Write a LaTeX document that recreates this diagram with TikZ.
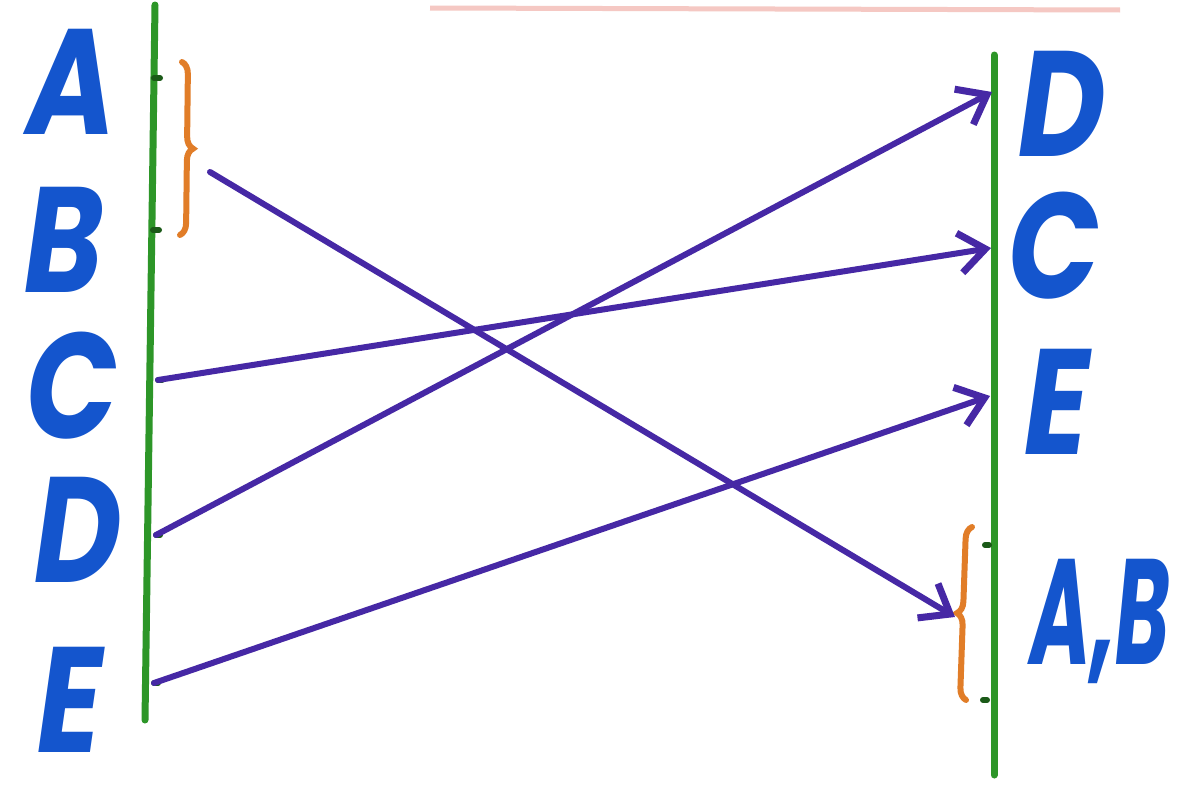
\documentclass[tikz,border=0pt]{standalone}
\usepackage{fontspec}
\setmainfont{Poppins}
\usetikzlibrary{arrows.meta,decorations.pathreplacing}
\definecolor{rail}{RGB}{45,150,40}
\definecolor{letter}{RGB}{20,85,205}
\definecolor{arrowc}{RGB}{70,40,165}
\definecolor{bracec}{RGB}{225,125,40}
\definecolor{pinkline}{RGB}{245,200,195}
\tikzset{
  railline/.style={rail,line width=7pt,line cap=round},
  tick/.style={rail!60!black,line width=6pt,line cap=round},
  lbl/.style={letter,font=\fontsize{150}{150}\selectfont\bfseries\itshape,inner sep=0pt,anchor=center,xscale=0.8,text height=104pt,text depth=0pt},
  lblsmall/.style={letter,font=\fontsize{150}{150}\selectfont\bfseries\itshape,inner sep=0pt,anchor=center,xscale=0.55,text height=104pt,text depth=0pt},
  conn/.style={arrowc,line width=6pt,line cap=round,-{Straight Barb[length=26pt,width=40pt,line width=7pt]}},
  bracel/.style={bracec,line width=6pt,line cap=round,decorate,decoration={brace,amplitude=12pt,raise=0pt}}
}
\begin{document}
\begin{tikzpicture}[x=1pt,y=-1pt]
\useasboundingbox (0,0) rectangle (1182,811);
\fill[white] (0,0) rectangle (1182,811);
% faint cut-off line at top
\draw[pinkline,line width=5pt] (430,8) -- (1120,10);
% rails
\coordinate (LT) at (155,5);
\coordinate (LB) at (145,720);
\coordinate (RT) at (994,55);
\coordinate (RB) at (994,775);
\draw[railline] (LT) -- (LB);
\draw[railline] (RT) -- (RB);
% attachment points
\coordinate (lA) at (154,78);
\coordinate (lB) at (153,230);
\coordinate (lC) at (158,380);
\coordinate (lD) at (156,535);
\coordinate (lE) at (154,683);
\coordinate (rD) at (992,92);
\coordinate (rC) at (991,248);
\coordinate (rE) at (990,396);
\coordinate (rA) at (989,545);
\coordinate (rB) at (987,700);
\foreach \p in {lA,lB} \draw[tick] (\p) -- ++(6,0);
\foreach \p in {lC,lD,lE} \draw[tick] (\p) -- ++(4,0);
\foreach \p in {rA,rB} \draw[tick] (\p) -- ++(-4,0);
% braces
\coordinate (lbTop) at (182,62);
\coordinate (lbBot) at (180,235);
\draw[bracel] (lbTop) -- (lbBot);
\coordinate (rbTop) at (972,527);
\coordinate (rbBot) at (966,700);
\draw[bracel] (rbBot) -- (rbTop);
\coordinate (lbStart) at (210,172);
\coordinate (rbTip) at (955,617);
% letters
\node[lbl] (tA) at (72,82) {A};
\node[lbl] (tB) at (64,240) {B};
\node[lbl] (tC) at (72,386) {C};
\node[lbl] (tD) at (78,530) {D};
\node[lbl] (tE) at (70,700) {E};
\node[lbl] (uD) at (1062,104) {D};
\node[lbl] (uC) at (1054,246) {C};
\node[lbl] (uE) at (1057,402) {E};
\node[lblsmall] (uAB) at (1100,612) {A,B};
% connectors
\draw[conn] (lbStart) -- (rbTip);
\draw[conn] (lC) -- (rC);
\draw[conn] (lD) -- (rD);
\draw[conn] (lE) -- (rE);
\end{tikzpicture}
\end{document}
